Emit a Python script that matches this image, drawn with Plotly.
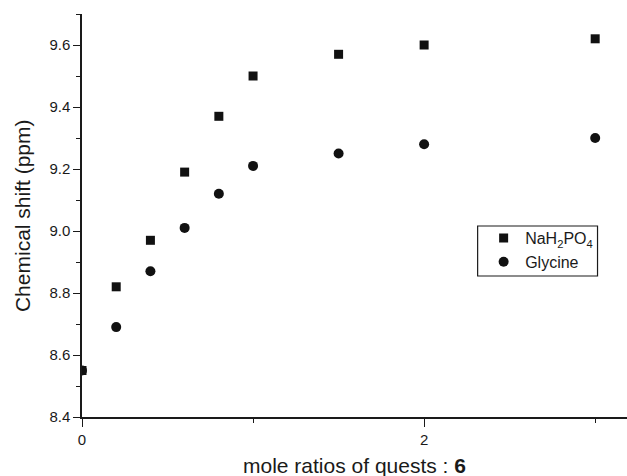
import plotly.graph_objects as go

ratios = [0, 0.2, 0.4, 0.6, 0.8, 1.0, 1.5, 2.0, 3.0]
nah2po4 = [8.55, 8.82, 8.97, 9.19, 9.37, 9.50, 9.57, 9.60, 9.62]
glycine = [8.55, 8.69, 8.87, 9.01, 9.12, 9.21, 9.25, 9.28, 9.30]

fig = go.Figure()
fig.add_trace(go.Scatter(x=ratios, y=nah2po4, mode="markers", name="NaH<sub>2</sub>PO<sub>4</sub>",
                         marker=dict(symbol="square", size=9, color="#111111")))
fig.add_trace(go.Scatter(x=ratios, y=glycine, mode="markers", name="Glycine",
                         marker=dict(symbol="circle", size=10, color="#111111")))

font = "Liberation Sans, Arial, sans-serif"
L, T, B = 81.5, 14, 59
W, H = 627, 476
pw, ph = W - L, H - T - B

def px_x(p):
    return (p - L) / pw

def px_y(p):
    return (H - B - p) / ph

fig.update_layout(
    width=W, height=H,
    margin=dict(l=L, r=0, t=T, b=B, autoexpand=False),
    paper_bgcolor="white", plot_bgcolor="white",
    font=dict(family=font, color="#1a1a1a", size=15),
    showlegend=True,
    legend=dict(x=px_x(482), y=px_y(221), xanchor="left", yanchor="top",
                borderwidth=0, bgcolor="rgba(0,0,0,0)",
                font=dict(size=16, family=font), itemwidth=33, tracegroupgap=0),
    shapes=[dict(type="rect", xref="paper", yref="paper",
                 x0=px_x(477.5), x1=px_x(597.5), y0=px_y(276), y1=px_y(226),
                 line=dict(color="#1a1a1a", width=1.2), fillcolor="rgba(0,0,0,0)", layer="below")],
    xaxis=dict(range=[0, 3.186], tickvals=[0, 2], ticktext=["0", "2"], automargin=False,
               showgrid=False, zeroline=False, showline=True, linecolor="#1a1a1a", linewidth=1.5,
               ticks="outside", ticklen=8, tickwidth=1.2, tickcolor="#1a1a1a",
               minor=dict(tickvals=[1, 3], ticks="outside", ticklen=4, tickcolor="#1a1a1a", showgrid=False),
               tickfont=dict(size=15)),
    yaxis=dict(range=[8.4, 9.7], tickvals=[8.4, 8.6, 8.8, 9.0, 9.2, 9.4, 9.6], automargin=False,
               ticktext=["8.4", "8.6", "8.8", "9.0", "9.2", "9.4", "9.6"],
               showgrid=False, zeroline=False, showline=True, linecolor="#1a1a1a", linewidth=1.5,
               ticks="outside", ticklen=7, tickwidth=1.2, tickcolor="#1a1a1a",
               minor=dict(dtick=0.1, ticks="outside", ticklen=4, tickcolor="#1a1a1a", showgrid=False),
               tickfont=dict(size=15)),
    annotations=[
        dict(text="mole ratios of quests : <b>6</b>", xref="paper", yref="paper",
             x=0.5, y=px_y(466), xanchor="center", yanchor="middle",
             showarrow=False, font=dict(size=21, family=font)),
        dict(text="Chemical shift (ppm)", xref="paper", yref="paper",
             x=px_x(22), y=0.5, xanchor="center", yanchor="middle", textangle=-90,
             showarrow=False, font=dict(size=21, family=font)),
    ],
)

fig.write_html("out.html", config={"displayModeBar": False},
               post_script="document.body.style.margin='0px';document.body.style.overflow='hidden';")
